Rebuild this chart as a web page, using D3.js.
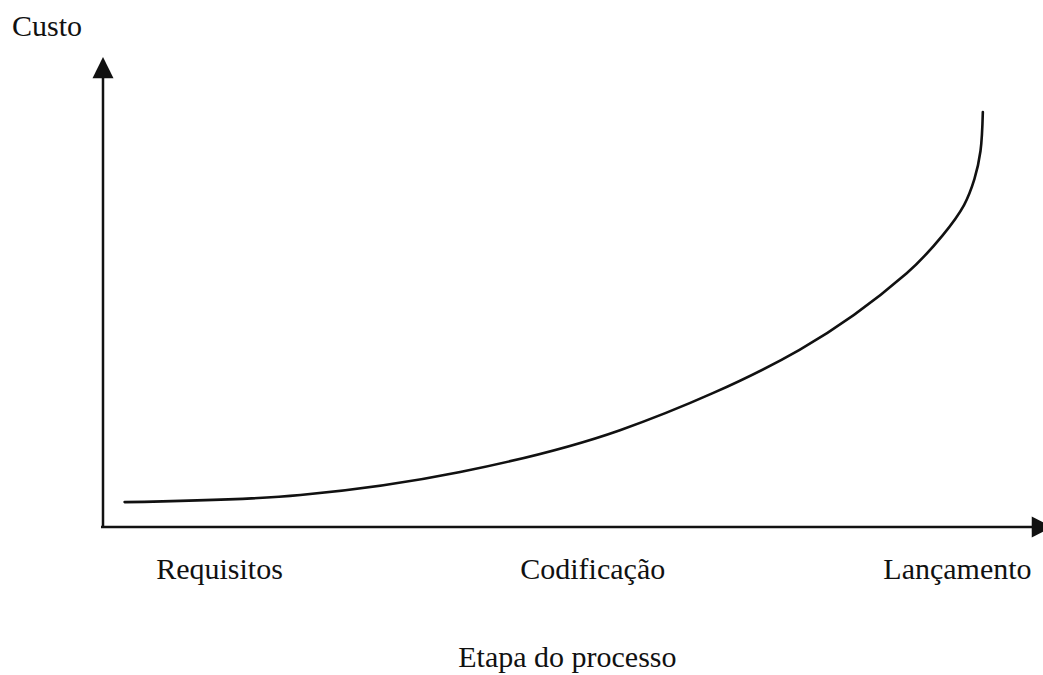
<!DOCTYPE html>
<html>
<head>
<meta charset="utf-8">
<script src="https://cdn.jsdelivr.net/npm/d3@7"></script>
<style>
  html, body { margin: 0; padding: 0; background: #fff; }
  text { font-family: "Liberation Serif", "Times New Roman", serif; fill: #111; }
</style>
</head>
<body>
<div id="chart"></div>
<script>
// Curve (x: process position 0-100, y: cost 0-100)
const curveX = [2.3, 21.0, 38.0, 55.0, 74.1, 85.5, 89.3, 91.6, 92.7, 93.35, 93.6];
const curveY = [5.3, 6.8, 11.7, 20.6, 37.7, 54.0, 62.0, 68.5, 74.0, 80.0, 88.3];

// Stage labels under the x axis
const stages = ["Requisitos", "Codificação", "Lançamento"];
const stagePos = [12.4, 52.1, 90.9];

const yTitle = "Custo";
const xTitle = "Etapa do processo";

const width = 1043, height = 675;

const svg = d3.select("#chart")
  .append("svg")
  .attr("width", width)
  .attr("height", height);

const x = d3.scaleLinear().domain([0, 100]).range([103, 1043]);
const y = d3.scaleLinear().domain([0, 100]).range([527, 57]);

// Axes with arrowheads
svg.append("line")
  .attr("x1", x(0)).attr("y1", y(0))
  .attr("x2", x(0)).attr("y2", y(96))
  .attr("stroke", "#111").attr("stroke-width", 2.5);

svg.append("path")
  .attr("d", `M${x(0)},${y(100)} L${x(0) - 10.5},${y(95.5)} L${x(0) + 10.5},${y(95.5)} Z`)
  .attr("fill", "#111");

svg.append("line")
  .attr("x1", x(0) - 2).attr("y1", y(0))
  .attr("x2", x(99)).attr("y2", y(0))
  .attr("stroke", "#111").attr("stroke-width", 2.5);

svg.append("path")
  .attr("d", `M${x(101)},${y(0)} L${x(98.8)},${y(0) - 10.5} L${x(98.8)},${y(0) + 10.5} Z`)
  .attr("fill", "#111");

// Cost curve
const pts = curveX.map((d, i) => [d, curveY[i]]);
const line = d3.line()
  .x(d => x(d[0]))
  .y(d => y(d[1]))
  .curve(d3.curveCatmullRom.alpha(0.5));

svg.append("path")
  .datum(pts)
  .attr("d", line)
  .attr("fill", "none")
  .attr("stroke", "#111")
  .attr("stroke-width", 2.6)
  .attr("stroke-linecap", "round");

// Labels
svg.append("text")
  .attr("x", 12).attr("y", 36)
  .attr("font-size", 30)
  .text(yTitle);

svg.selectAll(".stage")
  .data(stages)
  .join("text")
  .attr("class", "stage")
  .attr("x", (d, i) => x(stagePos[i]))
  .attr("y", 579)
  .attr("text-anchor", "middle")
  .attr("font-size", 30)
  .text(d => d);

svg.append("text")
  .attr("x", x(49.4)).attr("y", 667)
  .attr("text-anchor", "middle")
  .attr("font-size", 30)
  .text(xTitle);
</script>
</body>
</html>
